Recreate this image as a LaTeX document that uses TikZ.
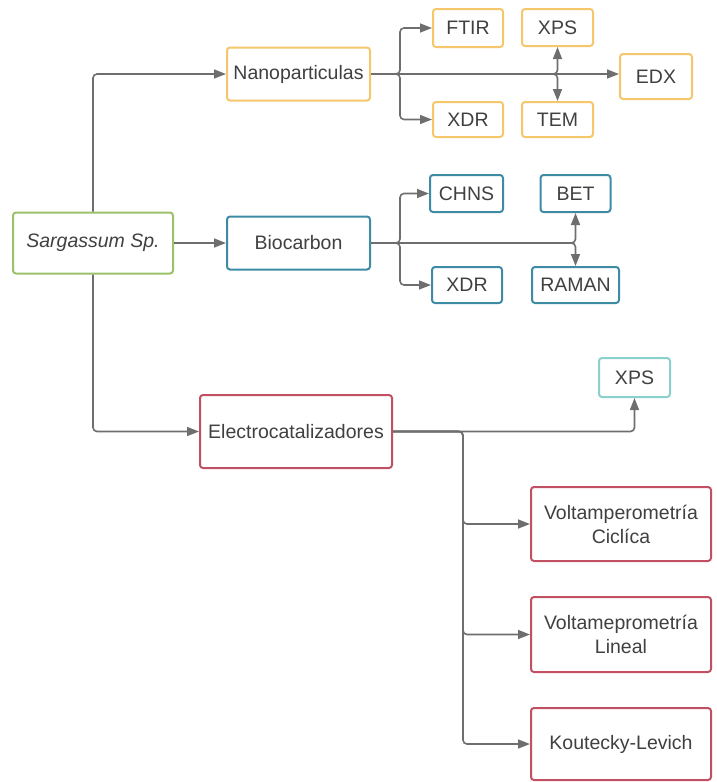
\documentclass[tikz,border=0pt]{standalone}
\usepackage{fontspec}
\setmainfont{Liberation Sans}
\usetikzlibrary{arrows.meta}
\definecolor{ygold}{HTML}{F5C76A}
\definecolor{bblue}{HTML}{3E8BA6}
\definecolor{ggreen}{HTML}{9DC16A}
\definecolor{rred}{HTML}{C25063}
\definecolor{tteal}{HTML}{8AD0CD}
\definecolor{lgray}{HTML}{6E6E6E}
\definecolor{tgray}{HTML}{404040}
\tikzset{
  box/.style={draw, line width=2pt, rounded corners=3pt, fill=white, text=tgray,
    font=\fontsize{19.5}{24}\selectfont, align=center, inner sep=0pt},
  ybox/.style={box, draw=ygold},
  bbox/.style={box, draw=bblue},
  rbox/.style={box, draw=rred},
  conn/.style={draw=lgray, line width=1.6pt, rounded corners=4pt,
    -{Triangle[length=12pt,width=9pt]}}
}
\begin{document}
\begin{tikzpicture}[x=1pt,y=-1pt]
\useasboundingbox (0,0) rectangle (717,782);
% nodes
\node[box, draw=ggreen, minimum width=160pt, minimum height=61pt, font=\fontsize{19.5}{24}\selectfont\itshape] (sarg) at (93,243) {Sargassum Sp.};
\node[ybox, minimum width=143pt, minimum height=53pt] (nano) at (298.5,74) {Nanoparticulas};
\node[ybox, minimum width=70pt, minimum height=38pt] (ftir) at (468,28) {FTIR};
\node[ybox, minimum width=71pt, minimum height=37pt] (xpsa) at (557.5,27.5) {XPS};
\node[ybox, minimum width=72pt, minimum height=45pt] (edx) at (656,76.5) {EDX};
\node[ybox, minimum width=70pt, minimum height=35pt] (xdra) at (468,119.5) {XDR};
\node[ybox, minimum width=71pt, minimum height=35pt] (tem) at (557.5,119.5) {TEM};
\node[bbox, minimum width=143pt, minimum height=53pt] (bio) at (298.5,243) {Biocarbon};
\node[bbox, minimum width=73pt, minimum height=37pt] (chns) at (466.5,193.5) {CHNS};
\node[bbox, minimum width=70pt, minimum height=37pt] (bet) at (575.5,193.5) {BET};
\node[bbox, minimum width=70pt, minimum height=36pt] (xdrb) at (467,285) {XDR};
\node[bbox, minimum width=87pt, minimum height=36pt] (raman) at (575.5,285) {RAMAN};
\node[rbox, minimum width=192pt, minimum height=73pt] (elec) at (296,431.5) {Electrocatalizadores};
\node[box, draw=tteal, minimum width=71pt, minimum height=39pt] (xpsc) at (634.5,377.5) {XPS};
\node[rbox, minimum width=180pt, minimum height=74pt] (vc) at (621,524) {Voltamperometría\\Ciclíca};
\node[rbox, minimum width=180pt, minimum height=75pt] (vl) at (621,634.5) {Voltameprometría\\Lineal};
\node[rbox, minimum width=180pt, minimum height=72pt] (kl) at (621,744) {Koutecky-Levich};
% junction coordinates
\coordinate (nj) at (400,74);
\coordinate (bj) at (400,243);
\coordinate (ej) at (463,431.5);
% connectors from Sargassum
\draw[conn] (sarg.north) |- (nano.west);
\draw[conn] (sarg.east) -- (bio.west);
\draw[conn] (sarg.south) |- (elec.west);
% Nanoparticulas
\draw[conn] (nano.east) -- (nano.east -| edx.west);
\draw[conn] (nano.east) -- (nj) |- (ftir.west);
\draw[conn] (nano.east) -- (nj) |- (xdra.west);
\draw[conn] (nano.east) -| (xpsa.south);
\draw[conn] (nano.east) -| (tem.north);
% Biocarbon
\draw[conn] (bio.east) -- (bj) |- (chns.west);
\draw[conn] (bio.east) -- (bj) |- (xdrb.west);
\draw[conn] (bio.east) -| (bet.south);
\draw[conn] (bio.east) -| (raman.north);
% Electrocatalizadores
\draw[conn] (elec.east) -| (xpsc.south);
\draw[conn] (elec.east) -- (ej) |- (vc.west);
\draw[conn] (elec.east) -- (ej) |- (vl.west);
\draw[conn] (elec.east) -- (ej) |- (kl.west);
\end{tikzpicture}
\end{document}
